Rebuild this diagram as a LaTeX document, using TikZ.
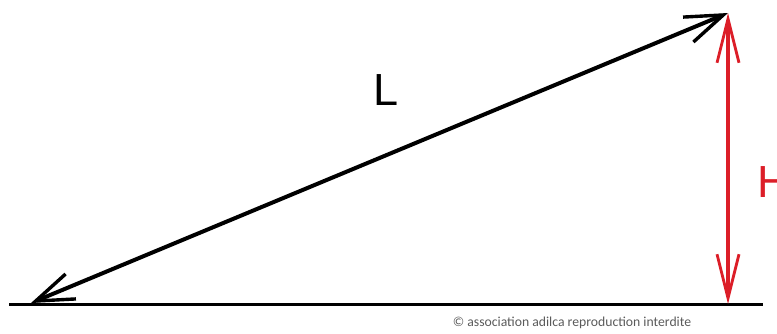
\documentclass[tikz,border=0pt]{standalone}
\usepackage{fontspec}
\setmainfont{Liberation Sans}
\newfontfamily\copyfont{Carlito}
\usetikzlibrary{arrows.meta}
\definecolor{hred}{RGB}{220,30,40}
\definecolor{copygray}{RGB}{90,90,90}
\tikzset{
  vecline/.style={line width=4pt, black, line cap=round,
    {Straight Barb[length=38pt,width=27pt,line width=3.4pt]}-{Straight Barb[length=38pt,width=27pt,line width=3.4pt]}},
  hline/.style={line width=3.2pt, hred,
    {Straight Barb[length=44pt,width=22pt,line width=2.8pt]}-{Straight Barb[length=44pt,width=22pt,line width=2.8pt]}},
  ground/.style={line width=3pt, black},
  biglabel/.style={font=\fontsize{45}{45}\selectfont, inner sep=0pt}
}
\begin{document}
\begin{tikzpicture}[x=1pt,y=-1pt]
\useasboundingbox (0,0) rectangle (777,333);
\clip (0,0) rectangle (777,333);
\coordinate (gl) at (9,304);
\coordinate (gr) at (763,304);
\coordinate (a) at (31,303);
\coordinate (b) at (728,13);
\coordinate (ht) at (728,13);
\coordinate (hb) at (728,304);
\draw[ground] (gl) -- (gr);
\draw[vecline] (a) -- (b);
\draw[hline] (hb) -- (ht);
\node[biglabel, anchor=north west] (L) at (373,74) {L};
\node[biglabel, anchor=north west, text=hred] (H) at (757,166) {H};
\node[font=\copyfont\fontsize{13.7}{13.7}\selectfont, text=copygray, anchor=center] (copy) at (572,323) {© association adilca reproduction interdite};
\end{tikzpicture}
\end{document}
